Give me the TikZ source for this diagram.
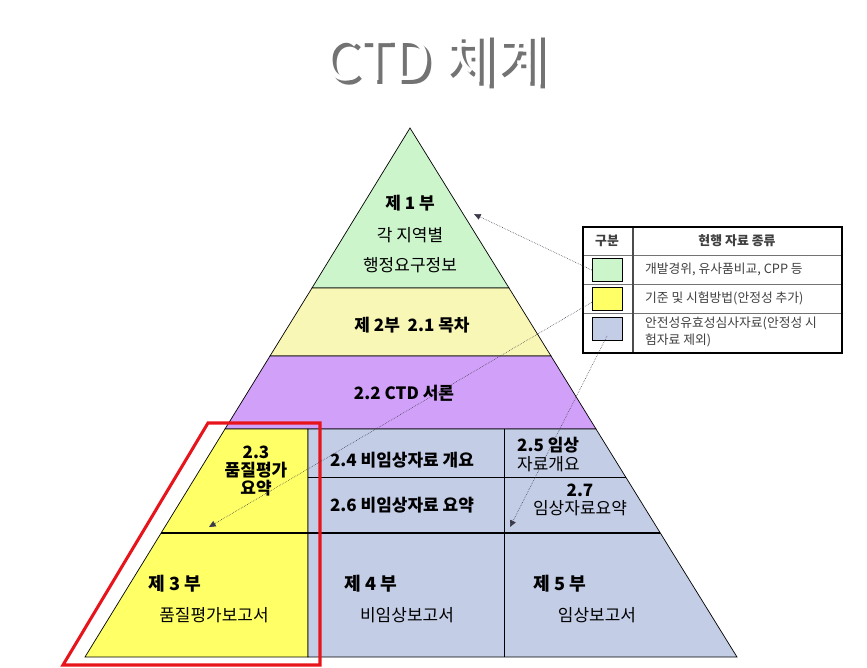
\documentclass[tikz,border=0pt]{standalone}
\usepackage{fontspec}
\setmainfont{Noto Sans CJK KR}
\usetikzlibrary{arrows.meta, positioning}
\definecolor{tgreen}{HTML}{CCF5CC}
\definecolor{tpale}{HTML}{F9F7B5}
\definecolor{tpurple}{HTML}{D1A0F8}
\definecolor{tyellow}{HTML}{FFFF66}
\definecolor{tblue}{HTML}{C3CDE6}
\definecolor{framered}{HTML}{E8141B}
\definecolor{legtext}{HTML}{404040}
\definecolor{linkgray}{HTML}{3A3A4A}
\tikzset{
  band/.style={draw=black, line width=0.6pt, line join=miter},
  sepline/.style={draw=black, line width=1.5pt},
  redframe/.style={draw=framered, line width=2.6pt, line join=miter},
  lbl/.style={font=\fontsize{14.5}{15.5}\selectfont\bfseries, align=center, inner sep=0pt},
  lblr/.style={font=\fontsize{14.5}{15.5}\selectfont, align=center, inner sep=0pt},
  part/.style={font=\fontsize{15.5}{18}\selectfont\bfseries, inner sep=0pt},
  swatch/.style={draw=black, line width=0.6pt, minimum width=9mm,
                 minimum height=7mm, inner sep=0pt},
  legtxt/.style={font=\fontsize{10.9}{15}\selectfont, text=legtext,
                 anchor=west, align=left, inner sep=0pt},
  leghead/.style={font=\fontsize{11}{12}\selectfont\bfseries, text=legtext, inner sep=0pt},
  link/.style={-{Triangle[length=2mm, width=1.8mm]}, densely dotted,
               line width=0.5pt, draw=linkgray},
}

\begin{document}
\begin{tikzpicture}[x=0.3mm, y=-0.3mm]
  \useasboundingbox (0,0) rectangle (867,668);
  % title with shadow
  \node[font=\fontsize{48}{50}\selectfont, text=black!55] at (440,63) {CTD 체계};
  \node[font=\fontsize{48}{50}\selectfont, text=white] (title) at (436,59) {CTD 체계};

  % pyramid bands
  \filldraw[band, fill=tgreen] (410,128) -- (509,288) -- (312,288) -- cycle;
  \filldraw[band, fill=tpale] (312,288) -- (509,288) -- (551,356) -- (270,356) -- cycle;
  \filldraw[band, fill=tpurple] (270,356) -- (551,356) -- (596,429) -- (225,429) -- cycle;
  \filldraw[band, fill=tyellow] (225,429) -- (308,429) -- (308,657) -- (85,657) -- cycle;
  \filldraw[band, fill=tblue] (308,429) -- (596,429) -- (737,657) -- (308,657) -- cycle;
  \draw[band] (308,477) -- (626,477);
  \draw[band] (504,429) -- (504,657);
  \draw[sepline] (161,533) -- (660,533);

  % module labels
  \node[lbl] (p1) at (410,203) {제 1 부};
  \node[lblr] (p1b) at (410,235) {각 지역별};
  \node[lblr] (p1c) at (410,265) {행정요구정보};
  \node[lbl] (p2) at (412,325) {제 2부\ \ 2.1 목차};
  \node[lbl] (p22) at (404,393) {2.2 CTD 서론};
  \node[lbl] (p23) at (256,471) {2.3\\품질평가\\요약};
  \node[lbl] (p24) at (402,460) {2.4 비임상자료 개요};
  \node[lbl] (p26) at (402,505) {2.6 비임상자료 요약};
  \node[lbl, anchor=west] (p25) at (517,445) {2.5 임상};
  \node[lblr, anchor=west] (p25b) at (517,464) {자료개요};
  \node[lbl] (p27) at (580,490) {2.7};
  \node[lblr] (p27b) at (580,508) {임상자료요약};
  \node[part] (p3) at (175,584) {제 3 부};
  \node[lblr] (p3b) at (214,615) {품질평가보고서};
  \node[part] (p4) at (371,584) {제 4 부};
  \node[lblr] (p4b) at (407,615) {비임상보고서};
  \node[part] (p5) at (560,584) {제 5 부};
  \node[lblr] (p5b) at (597,615) {임상보고서};

  % highlight of part 3
  \draw[redframe] (208,423) -- (320,423) -- (320,665) -- (63,665) -- cycle;

  % legend
  \fill[white] (583,227) rectangle (842,353);
  \draw[black!55, line width=0.5pt] (583,255) -- (842,255);
  \draw[black!55, line width=0.5pt] (583,284) -- (842,284);
  \draw[black!55, line width=0.5pt] (583,313) -- (842,313);
  \draw[black!70, line width=1.4pt] (633,227) -- (633,353);
  \draw[black, line width=2pt] (583,227) rectangle (842,353);
  \node[leghead] (h1) at (607,241) {구분};
  \node[leghead] (h2) at (737,241) {현행 자료 종류};
  \node[swatch, fill=tgreen] (sw1) at (607,270) {};
  \node[swatch, fill=tyellow] (sw2) at (607,299) {};
  \node[swatch, fill=tblue] (sw3) at (607,329) {};
  \node[legtxt] (t1) at (645,269) {개발경위, 유사품비교, CPP 등};
  \node[legtxt] (t2) at (645,298) {기준 및 시험방법(안정성 추가)};
  \node[legtxt] (t3) at (645,332) {안전성유효성심사자료(안정성 시\\험자료 제외)};

  % links from legend into pyramid
  \coordinate (c1) at (474,214);
  \coordinate (c2) at (209,527);
  \coordinate (c3) at (510,527);
  \draw[link] (sw1.west) -- (c1);
  \draw[link] ([yshift=-1mm]sw2.west) -- (c2);
  \draw[link] ([yshift=1.5mm]sw3.south) -- (c3);
\end{tikzpicture}
\end{document}
